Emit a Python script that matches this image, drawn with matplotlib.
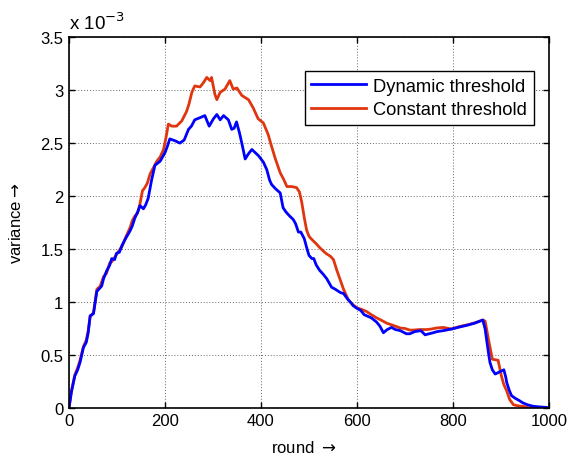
import numpy as np
import matplotlib
matplotlib.use('Agg')
import matplotlib.pyplot as plt
from matplotlib.ticker import MultipleLocator

plt.rcParams['font.family'] = ['Liberation Sans', 'DejaVu Sans']

# variance values are in units of 1e-3
dyn_round = [0, 5, 12, 18, 23, 30, 36, 40, 44, 51, 58, 68, 72, 78, 85, 89, 95, 99, 105, 110,
             118, 127, 132, 137, 143, 148, 155, 160, 165, 172, 179, 190, 200, 205, 210, 222, 231,
             240, 249, 255, 262, 273, 283, 292, 301, 308, 315, 322, 332, 339, 344, 349, 355, 360,
             367, 374, 381, 388, 395, 405, 412, 418, 422, 430, 440, 446, 452, 460, 467, 472, 478,
             483, 490, 496, 500, 506, 510, 515, 522, 530, 537, 547, 555, 565, 572, 580, 588, 592,
             600, 608, 615, 620, 630, 641, 648, 655, 663, 672, 680, 690, 703, 710, 720, 733, 742,
             750, 759, 766, 780, 797, 810, 829, 845, 862, 867, 872, 877, 882, 888, 897, 906, 910,
             912, 917, 922, 930, 938, 946, 955, 967, 980, 995, 1000]
dyn_var = [0.0, 0.15, 0.30, 0.36, 0.43, 0.57, 0.62, 0.71, 0.87, 0.89, 1.10, 1.15, 1.22, 1.29, 1.35,
           1.41, 1.40, 1.46, 1.47, 1.53, 1.60, 1.67, 1.72, 1.79, 1.85, 1.91, 1.88, 1.92, 1.98, 2.15,
           2.29, 2.33, 2.41, 2.47, 2.54, 2.52, 2.50, 2.53, 2.63, 2.66, 2.72, 2.74, 2.76, 2.66, 2.73,
           2.77, 2.72, 2.76, 2.72, 2.63, 2.64, 2.70, 2.60, 2.50, 2.35, 2.40, 2.44, 2.41, 2.38, 2.32,
           2.25, 2.15, 2.11, 2.07, 2.03, 1.89, 1.85, 1.81, 1.78, 1.74, 1.66, 1.66, 1.60, 1.50, 1.44,
           1.41, 1.41, 1.35, 1.30, 1.26, 1.22, 1.14, 1.12, 1.09, 1.08, 1.03, 0.99, 0.965, 0.94, 0.92,
           0.88, 0.87, 0.85, 0.81, 0.77, 0.71, 0.74, 0.76, 0.74, 0.73, 0.70, 0.70, 0.72, 0.73, 0.69,
           0.70, 0.71, 0.72, 0.73, 0.745, 0.76, 0.78, 0.80, 0.83, 0.745, 0.58, 0.43, 0.36, 0.32, 0.34,
           0.36, 0.29, 0.24, 0.17, 0.116, 0.09, 0.07, 0.047, 0.03, 0.016, 0.01, 0.005, 0.0]

const_round = [0, 5, 12, 18, 23, 30, 36, 40, 44, 51, 58, 65, 72, 78, 85, 89, 95, 99, 105, 110, 118,
               127, 132, 137, 143, 148, 153, 158, 163, 169, 175, 183, 190, 197, 202, 207, 214, 224,
               235, 245, 250, 256, 262, 273, 280, 287, 294, 297, 304, 308, 315, 325, 335, 342, 350,
               360, 374, 384, 394, 405, 415, 422, 430, 440, 447, 454, 464, 474, 480, 485, 490, 495,
               500, 506, 515, 523, 535, 545, 551, 558, 565, 572, 582, 590, 600, 610, 620, 630, 641,
               650, 662, 675, 690, 700, 710, 717, 730, 745, 755, 766, 780, 797, 815, 835, 850, 862,
               867, 874, 882, 894, 901, 906, 912, 918, 926, 935, 946, 958, 1000]
const_var = [0.0, 0.16, 0.31, 0.38, 0.45, 0.58, 0.64, 0.73, 0.86, 0.90, 1.12, 1.15, 1.24, 1.27,
             1.37, 1.38, 1.42, 1.45, 1.49, 1.52, 1.61, 1.70, 1.77, 1.81, 1.84, 1.93, 2.05, 2.08, 2.12,
             2.21, 2.26, 2.33, 2.37, 2.44, 2.55, 2.68, 2.66, 2.66, 2.71, 2.80, 2.87, 2.98, 3.04, 3.03,
             3.07, 3.12, 3.09, 3.12, 2.96, 2.91, 2.98, 3.01, 3.09, 3.01, 3.02, 2.95, 2.91, 2.83, 2.73,
             2.69, 2.58, 2.47, 2.35, 2.22, 2.16, 2.09, 2.09, 2.08, 2.04, 1.94, 1.80, 1.68, 1.62, 1.59,
             1.55, 1.51, 1.46, 1.43, 1.40, 1.30, 1.21, 1.12, 1.02, 0.98, 0.945, 0.93, 0.91, 0.88, 0.85,
             0.83, 0.80, 0.78, 0.755, 0.75, 0.735, 0.735, 0.74, 0.74, 0.745, 0.755, 0.76, 0.745, 0.77,
             0.79, 0.81, 0.83, 0.82, 0.645, 0.46, 0.45, 0.30, 0.22, 0.16, 0.08, 0.03, 0.02, 0.015,
             0.0, 0.0]

fig = plt.figure(figsize=(5.68, 4.6), dpi=100)
ax = fig.add_axes([0.1215, 0.111, 0.845, 0.806])

red_line, = ax.plot(const_round, const_var, color='#e0360f', lw=2.0)
blue_line, = ax.plot(dyn_round, dyn_var, color='#0000ff', lw=2.0)

ax.set_xlim(0, 1000)
ax.set_ylim(0, 3.5)
ax.xaxis.set_major_locator(MultipleLocator(200))
ax.set_yticks(np.arange(0, 3.51, 0.5))
ax.set_yticklabels(['0', '0.5', '1', '1.5', '2', '2.5', '3', '3.5'])
ax.grid(True, color='#666666', linestyle=(0, (1, 2)), linewidth=0.7)
ax.tick_params(direction='in', top=True, right=True, labelsize=12, length=4, width=1, pad=4)
for s in ax.spines.values():
    s.set_linewidth(1.2)

ax.set_xlabel(r'round $\rightarrow$', fontsize=12)
ax.set_ylabel(r'variance$\rightarrow$', fontsize=12)
ax.xaxis.set_label_coords(0.49, -0.083)
ax.yaxis.set_label_coords(-0.093, 0.5)
ax.text(0.0, 1.01, r'x 10$^{-3}$', transform=ax.transAxes, fontsize=13.5, va='bottom', ha='left')

leg = ax.legend([blue_line, red_line], ['Dynamic threshold', 'Constant threshold'],
                loc='upper right', bbox_to_anchor=(0.968, 0.908), fontsize=13.2,
                fancybox=False, framealpha=1, edgecolor='black', handlelength=3.0,
                borderpad=0.35, labelspacing=0.35, handletextpad=0.4, borderaxespad=0)
leg.get_frame().set_linewidth(1.0)

fig.savefig('out.png', dpi=100)
